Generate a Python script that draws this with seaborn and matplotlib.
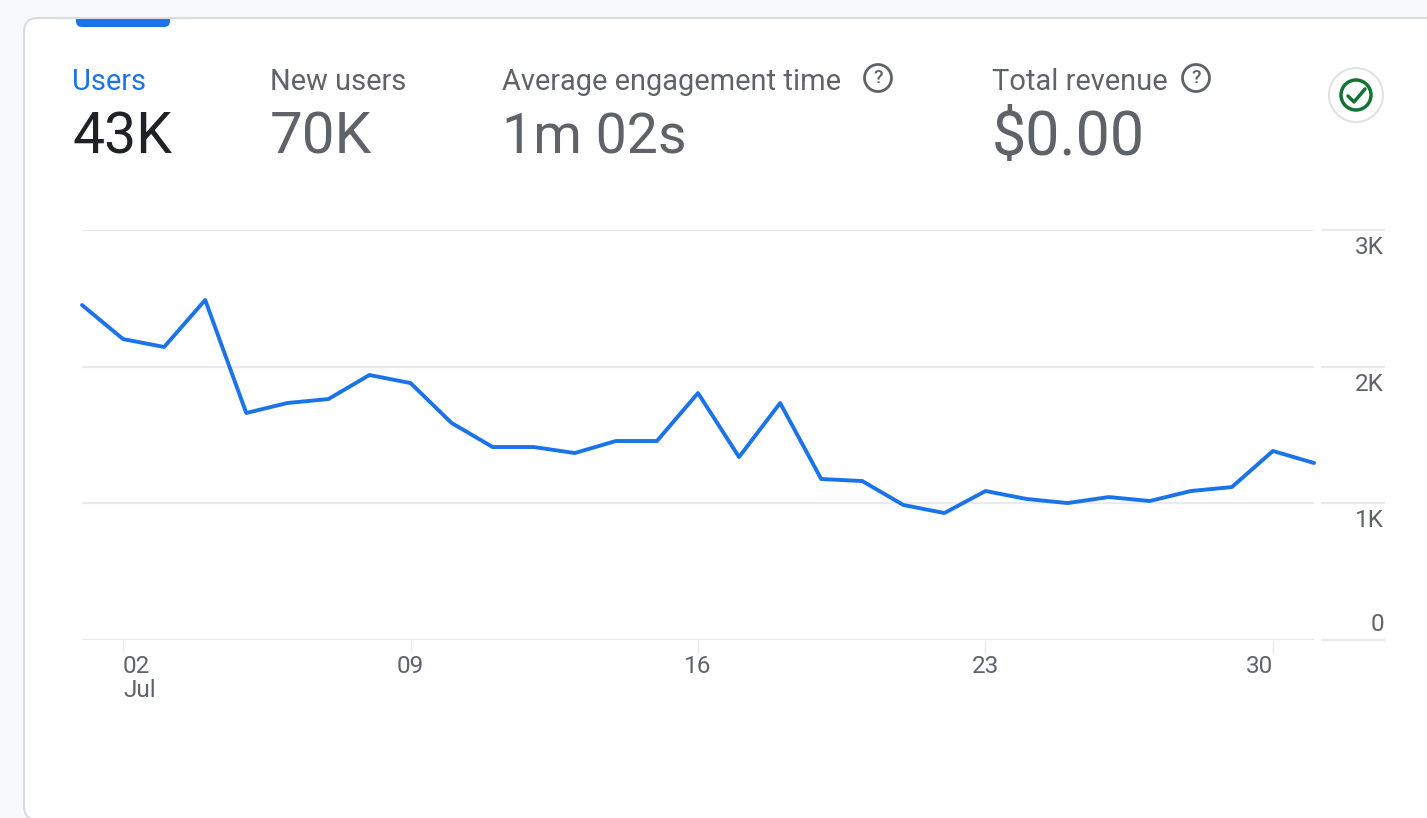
import matplotlib
matplotlib.use("Agg")
import matplotlib.pyplot as plt
import matplotlib.transforms as mtrans
from matplotlib.patches import FancyBboxPatch, Circle
import pandas as pd
import seaborn as sns

days = list(range(1, 32))
users = [2451, 2202, 2144, 2488, 1661, 1734, 1763, 1939, 1880, 1588, 1412,
         1412, 1368, 1456, 1456, 1807, 1339, 1734, 1178, 1163, 988, 929,
         1090, 1032, 1002, 1046, 1017, 1090, 1119, 1383, 1295]

y_ticks = [0, 1000, 2000, 3000]
y_labels = ["0", "1K", "2K", "3K"]
x_ticks = [2, 9, 16, 23, 30]
x_labels = ["02\nJul", "09", "16", "23", "30"]

metric_names = ["Users", "New users", "Average engagement time", "Total revenue"]
metric_values = ["43K", "70K", "1m 02s", "$0.00"]

BLUE = "#1a73e8"
GREY = "#5f6368"
DARK = "#202124"
GRID = "#e8eaed"
W, H = 1427, 818

sns.set_theme(style="white")
plt.rcParams["font.family"] = ["Roboto", "DejaVu Sans"]

fig = plt.figure(figsize=(W / 100, H / 100), dpi=100, facecolor="#f8f9fa")

# background layer in pixel coordinates, for the card and the header
bg = fig.add_axes([0, 0, 1, 1])
bg.set_xlim(0, W)
bg.set_ylim(H, 0)
bg.axis("off")

card = FancyBboxPatch((24, 18), W + 60, H - 16, boxstyle="round,pad=0,rounding_size=14",
                      facecolor="white", edgecolor="#dadce0", linewidth=1.5)
bg.add_patch(card)
tab = FancyBboxPatch((76, 8), 94, 19, boxstyle="round,pad=0,rounding_size=6",
                     facecolor=BLUE, edgecolor="none", zorder=2)
bg.add_patch(tab)
bg.add_patch(plt.Rectangle((60, 0), 130, 18, facecolor="#f8f9fa", edgecolor="none", zorder=3))
bg.plot([60, 190], [18, 18], color="#dadce0", lw=1.5, zorder=4)

name_x = [72, 270, 502, 992]
value_sizes = [41, 42, 40, 44]
for i, (name, value) in enumerate(zip(metric_names, metric_values)):
    bg.text(name_x[i], 82, name, fontsize=20.9, va="center", ha="left",
            color=BLUE if i == 0 else GREY)
    bg.text(name_x[i], 138, value, fontsize=value_sizes[i], va="center", ha="left",
            color=DARK if i == 0 else GREY)

# help icons
for cx, cy in [(878, 78), (1196, 78)]:
    bg.add_patch(Circle((cx, cy), 13.5, facecolor="none", edgecolor=GREY, linewidth=2))
    bg.text(cx, cy, "?", fontsize=14, ha="center", va="center", color=GREY, fontweight="medium")

# status badge
bg.add_patch(Circle((1356, 95), 27, facecolor="white", edgecolor="#e0e2e6", linewidth=1.5))
bg.add_patch(Circle((1356, 95), 15, facecolor="none", edgecolor="#137333", linewidth=2.5))
bg.plot([1348, 1354, 1365], [96, 102, 89], color="#137333", lw=2.5)

# chart
ax = fig.add_axes([82 / W, 1 - 640 / H, (1314 - 82) / W, (640 - 230) / H])
ax.patch.set_alpha(0)
df = pd.DataFrame({"day": days, "users": users})
sns.lineplot(data=df, x="day", y="users", color=BLUE, linewidth=2.8, ax=ax, clip_on=False, zorder=5)
ax.set_xlim(1, 31)
ax.set_ylim(0, 3000)
ax.set_xlabel("")
ax.set_ylabel("")
sns.despine(ax=ax, left=True, right=True, top=True, bottom=True)

ax.set_yticks(y_ticks)
ax.set_yticklabels([])
ax.tick_params(axis="y", length=0)
ax.grid(axis="y", color=GRID, linewidth=1.6)
ax.grid(axis="x", visible=False)

ax.set_xticks(x_ticks)
ax.set_xticklabels(x_labels, fontsize=17.5, color=GREY, linespacing=1.05)
ax.tick_params(axis="x", length=9, width=1, color=GRID, pad=2, bottom=True)
for lab, ha in zip(ax.get_xticklabels(), ["left", "center", "center", "center", "right"]):
    lab.set_ha(ha)

# y labels and their short grid stubs sit to the right of the plot
y_trans = mtrans.blended_transform_factory(bg.transData, ax.transData)
for v, lab in zip(y_ticks, y_labels):
    bg.plot([1322, 1384], [v, v], transform=y_trans, color=GRID, lw=1.6)
    offset = 11 if v == 0 else -12.5
    bg.annotate(lab, xy=(1384, v), xycoords=y_trans, xytext=(0, offset),
                textcoords="offset points", ha="right", va="center", fontsize=17.5, color=GREY)

fig.savefig("out.png", dpi=100, facecolor=fig.get_facecolor())
